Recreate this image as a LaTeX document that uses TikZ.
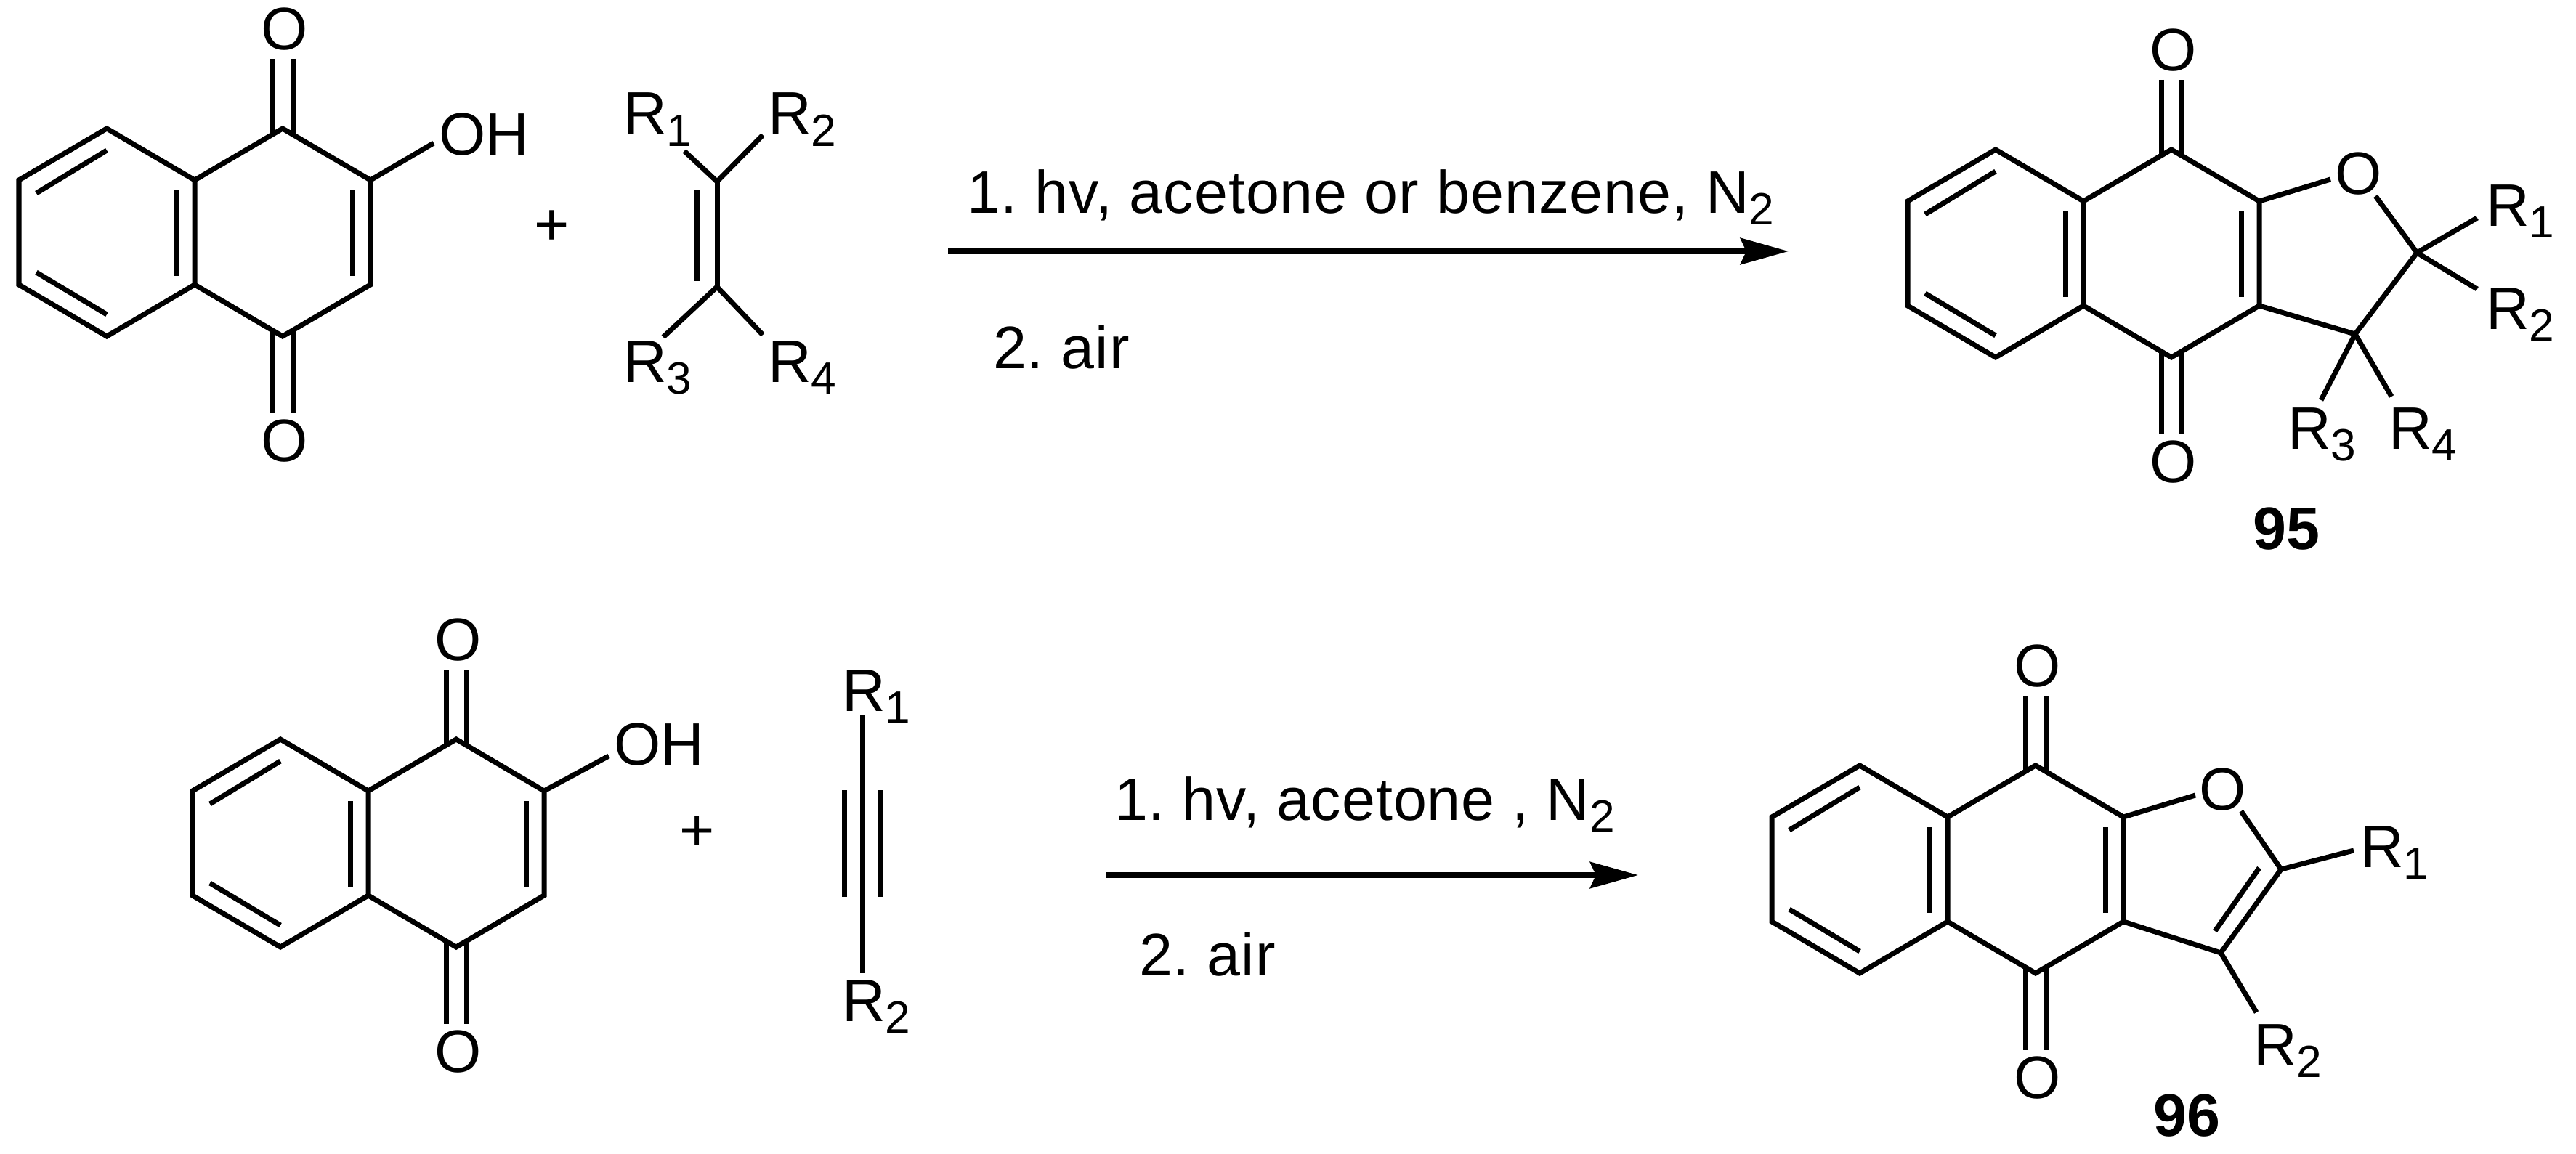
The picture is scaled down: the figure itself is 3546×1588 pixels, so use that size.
\documentclass[tikz,border=0pt]{standalone}
\usepackage{fontspec}
\setmainfont{Liberation Sans}
\usetikzlibrary{arrows.meta}
\frenchspacing
\newcommand{\subdigit}[1]{\raisebox{-4.8pt}{\fontsize{17.7}{20}\selectfont #1}}
\newcommand{\Rsub}[1]{R\subdigit{#1}}
\tikzset{
  x=0.01cm, y=-0.01cm,
  bond/.style={line width=0.07cm, line join=miter, line cap=butt, black},
  rxn/.style={line width=0.08cm, black, -{Stealth[length=0.66cm,width=0.36cm,inset=0.08cm]}},
  lbl/.style={inner sep=0pt, outer sep=0pt, font=\fontsize{23.5}{27}\selectfont, text=black},
  rlbl/.style={lbl, anchor=base west},
  cond/.style={rlbl, font=\fontsize{23.5}{27}\selectfont\addfontfeature{LetterSpace=1.2}},
  cmpd/.style={lbl, anchor=base, font=\fontsize{23.5}{27}\selectfont\bfseries}
}
% shared naphthoquinone skeleton: prefix, position of the top vertex of the benzo ring
\newcommand{\qskel}[3]{%
\begin{scope}[shift={(#2,#3)}]
  \coordinate (#1t) at (0,0);
  \coordinate (#1ul) at (-121,71);
  \coordinate (#1ll) at (-121,215);
  \coordinate (#1b) at (0,286);
  \coordinate (#1jt) at (121,71);
  \coordinate (#1jb) at (121,215);
  \coordinate (#1ct) at (242,0);
  \coordinate (#1cb) at (242,286);
  \coordinate (#1rt) at (363,71);
  \coordinate (#1rb) at (363,215);
  \coordinate (#1ia) at (-97,89);
  \coordinate (#1ib) at (0,30);
  \coordinate (#1ic) at (-97,198);
  \coordinate (#1id) at (0,256);
  \coordinate (#1ie) at (96,85);
  \coordinate (#1if) at (96,203);
  \coordinate (#1ig) at (338,85);
  \coordinate (#1ih) at (338,203);
  \coordinate (#1oa) at (228,-96);
  \coordinate (#1ob) at (228,10);
  \coordinate (#1oc) at (256,-96);
  \coordinate (#1od) at (256,10);
  \coordinate (#1oe) at (228,278);
  \coordinate (#1of) at (228,392);
  \coordinate (#1og) at (256,278);
  \coordinate (#1oh) at (256,392);
  \node[lbl] (#1Ot) at (245,-137) {O};
  \node[lbl] (#1Ob) at (245,430) {O};
\end{scope}
\draw[bond] (#1t) -- (#1ul) -- (#1ll) -- (#1b) -- (#1jb) -- (#1jt) -- cycle;
\draw[bond] (#1jt) -- (#1ct) -- (#1rt) -- (#1rb) -- (#1cb) -- (#1jb);
\draw[bond] (#1ia) -- (#1ib);
\draw[bond] (#1ic) -- (#1id);
\draw[bond] (#1ie) -- (#1if);
\draw[bond] (#1ig) -- (#1ih);
\draw[bond] (#1oa) -- (#1ob);
\draw[bond] (#1oc) -- (#1od);
\draw[bond] (#1oe) -- (#1of);
\draw[bond] (#1og) -- (#1oh);
}
\begin{document}
\begin{tikzpicture}
\useasboundingbox (0,0) rectangle (3546,1588);
\fill[white] (0,0) rectangle (3546,1588);

% ---------- top reactant
\qskel{A}{147}{177}
\coordinate (Aoh) at (597,197);
\draw[bond] (Art) -- (Aoh);
\node[rlbl] (AOH) at (604,213) {OH};
\node[lbl] (plusA) at (760,314) {+};

% alkene
\coordinate (Ec1) at (987,250);
\coordinate (Ec2) at (987,395);
\coordinate (Ei1) at (959,262);
\coordinate (Ei2) at (959,387);
\coordinate (Er1) at (942,208);
\coordinate (Er2) at (1050,186);
\coordinate (Er3) at (913,464);
\coordinate (Er4) at (1050,461);
\draw[bond] (Ec1) -- (Ec2);
\draw[bond] (Ei1) -- (Ei2);
\draw[bond] (Er1) -- (Ec1) -- (Er2);
\draw[bond] (Er3) -- (Ec2) -- (Er4);
\node[rlbl] (ER1) at (858,185) {\Rsub{1}};
\node[rlbl] (ER2) at (1057,185) {\Rsub{2}};
\node[rlbl] (ER3) at (858,526) {\Rsub{3}};
\node[rlbl] (ER4) at (1057,526) {\Rsub{4}};

% top arrow
\coordinate (Ra1) at (1305,346);
\coordinate (Ra2) at (2462,346);
\draw[rxn] (Ra1) -- (Ra2);
\node[cond] (Rt1) at (1331,293) {1. hv, acetone or benzene, N\subdigit{2}};
\node[cond] (Rt2) at (1367,507) {2. air};

% ---------- top product 95
\qskel{C}{2747}{206}
\node[lbl] (CO) at (3247,239) {O};
\coordinate (Co1) at (3208,247);
\coordinate (Co2) at (3270,270);
\coordinate (Cc2) at (3327,348);
\coordinate (Cc3) at (3242,460);
\coordinate (Cr1) at (3410,300);
\coordinate (Cr2) at (3410,398);
\coordinate (Cr3) at (3195,551);
\coordinate (Cr4) at (3292,546);
\draw[bond] (Crt) -- (Co1);
\draw[bond] (Co2) -- (Cc2) -- (Cc3) -- (Crb);
\draw[bond] (Cc2) -- (Cr1);
\draw[bond] (Cc2) -- (Cr2);
\draw[bond] (Cc3) -- (Cr3);
\draw[bond] (Cc3) -- (Cr4);
\node[rlbl] (CR1) at (3422,311) {\Rsub{1}};
\node[rlbl] (CR2) at (3422,453) {\Rsub{2}};
\node[rlbl] (CR3) at (3149,618) {\Rsub{3}};
\node[rlbl] (CR4) at (3288,618) {\Rsub{4}};
\node[cmpd] (n95) at (3147,756) {95};

% ---------- bottom reactant
\qskel{B}{386}{1018}
\coordinate (Boh) at (838,1041);
\draw[bond] (Brt) -- (Boh);
\node[rlbl] (BOH) at (845,1053) {OH};
\node[lbl] (plusB) at (960,1148) {+};

% alkyne
\coordinate (Ya) at (1187,985);
\coordinate (Yb) at (1187,1340);
\coordinate (Yc) at (1162,1088);
\coordinate (Yd) at (1162,1235);
\coordinate (Ye) at (1212,1088);
\coordinate (Yf) at (1212,1235);
\draw[bond] (Ya) -- (Yb);
\draw[bond] (Yc) -- (Yd);
\draw[bond] (Ye) -- (Yf);
\node[rlbl] (YR1) at (1159,979) {\Rsub{1}};
\node[rlbl] (YR2) at (1159,1406) {\Rsub{2}};

% bottom arrow
\coordinate (Rb1) at (1522,1205);
\coordinate (Rb2) at (2255,1205);
\draw[rxn] (Rb1) -- (Rb2);
\node[cond] (Rb3) at (1534,1129) {1. hv, acetone , N\subdigit{2}};
\node[cond] (Rb4) at (1568,1343) {2. air};

% ---------- bottom product 96
\qskel{D}{2560}{1054}
\node[lbl] (DO) at (3060,1087) {O};
\coordinate (Do1) at (3022,1095);
\coordinate (Do2) at (3085,1117);
\coordinate (Dc2) at (3140,1197);
\coordinate (Dc3) at (3057,1312);
\coordinate (Di1) at (3110,1195);
\coordinate (Di2) at (3049,1282);
\coordinate (Dr1) at (3240,1171);
\coordinate (Dr2) at (3106,1394);
\draw[bond] (Drt) -- (Do1);
\draw[bond] (Do2) -- (Dc2) -- (Dc3) -- (Drb);
\draw[bond] (Di1) -- (Di2);
\draw[bond] (Dc2) -- (Dr1);
\draw[bond] (Dc3) -- (Dr2);
\node[rlbl] (DR1) at (3249,1194) {\Rsub{1}};
\node[rlbl] (DR2) at (3102,1467) {\Rsub{2}};
\node[cmpd] (n96) at (3010,1564) {96};
\end{tikzpicture}
\end{document}
